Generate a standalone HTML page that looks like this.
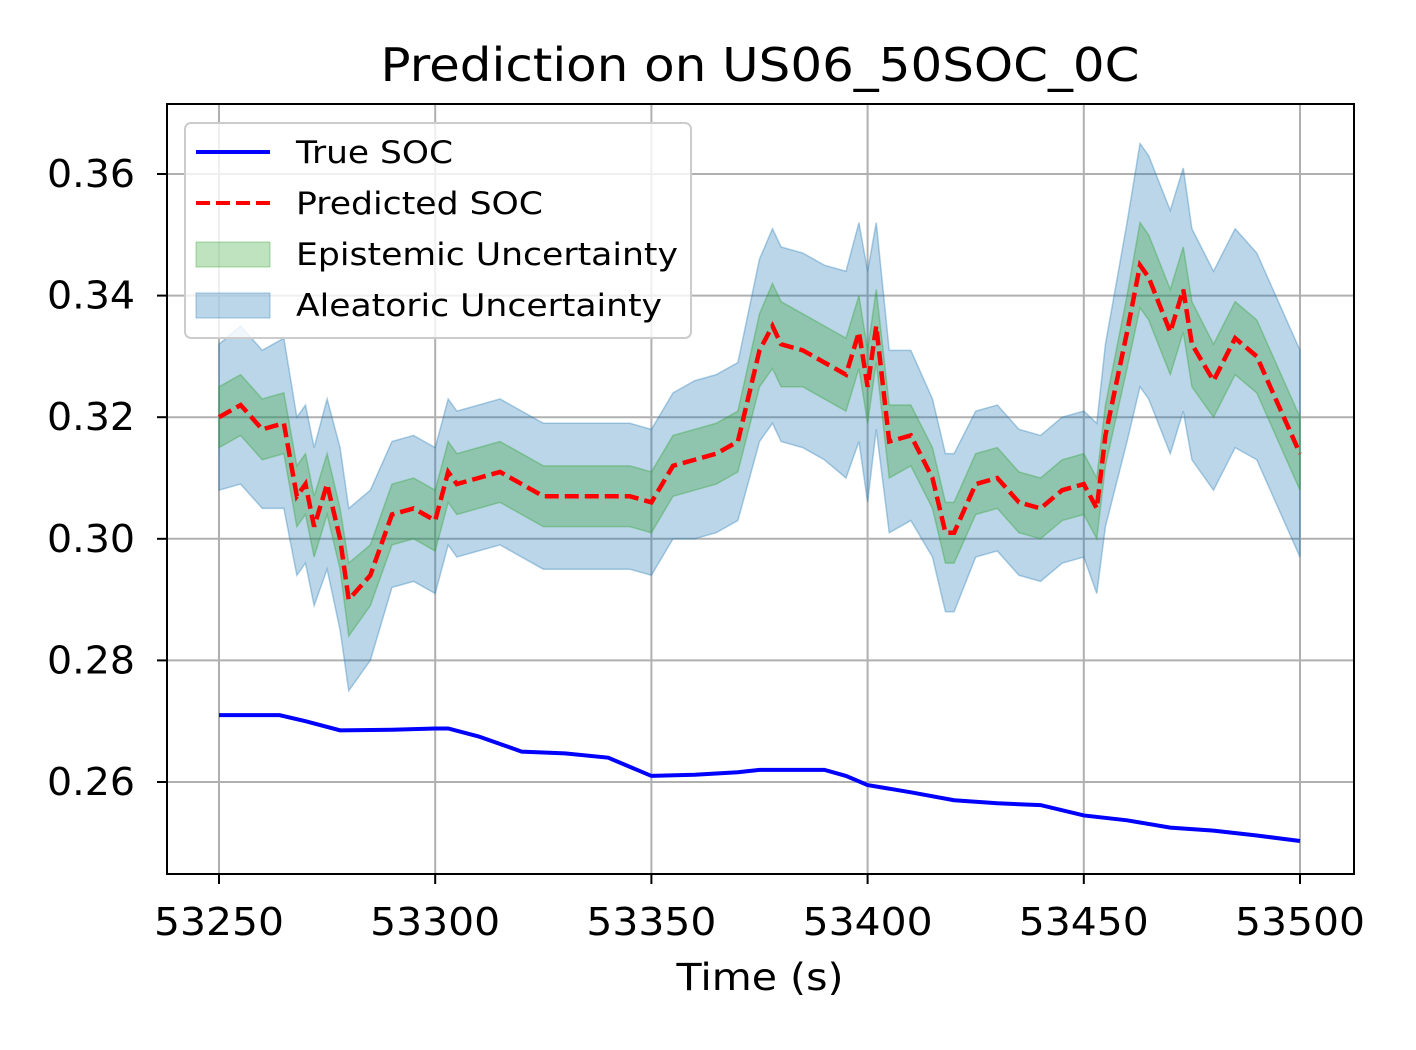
<!DOCTYPE html>
<html><head><meta charset="utf-8"><style>
body{margin:0;background:#fff;}
svg{display:block;font-family:"DejaVu Sans","Liberation Sans",sans-serif;}
</style></head><body>
<svg id="chart" width="1416" height="1050">
<text x="760" y="81" font-size="46" text-anchor="middle" textLength="759" lengthAdjust="spacingAndGlyphs">Prediction on US06_50SOC_0C</text>
<g id="grid"></g><g id="bands"></g><g id="lines"></g>
<rect x="167" y="104" width="1187" height="770" fill="none" stroke="#000" stroke-width="2"/>
<g id="ticks"></g>
<text x="760" y="990" font-size="37" text-anchor="middle" textLength="167" lengthAdjust="spacingAndGlyphs">Time (s)</text>
<g>
<rect x="185" y="123" width="506" height="215" rx="6" fill="#fff" fill-opacity="0.8" stroke="#ccc" stroke-width="2"/>
<line x1="196" y1="152" x2="270" y2="152" stroke="#0000ff" stroke-width="4"/>
<text x="296" y="163" font-size="31" textLength="157" lengthAdjust="spacingAndGlyphs">True SOC</text>
<line x1="196" y1="203" x2="270" y2="203" stroke="#ff0000" stroke-width="4" stroke-dasharray="14,6"/>
<text x="296" y="214" font-size="31" textLength="247" lengthAdjust="spacingAndGlyphs">Predicted SOC</text>
<rect x="196" y="242" width="74" height="25" fill="#2ca02c" fill-opacity="0.3" stroke="#2ca02c" stroke-opacity="0.4"/>
<text x="296" y="265" font-size="31" textLength="382" lengthAdjust="spacingAndGlyphs">Epistemic Uncertainty</text>
<rect x="196" y="293" width="74" height="25" fill="#1f77b4" fill-opacity="0.3" stroke="#1f77b4" stroke-opacity="0.4"/>
<text x="296" y="316" font-size="31" textLength="366" lengthAdjust="spacingAndGlyphs">Aleatoric Uncertainty</text>
</g>
</svg>
<script>
const predT=[53250,53255,53260,53265,53268,53270,53272,53275,53278,53280,53285,53290,53295,53300,53303,53305,53310,53315,53320,53325,53330,53335,53340,53345,53350,53355,53360,53365,53370,53375,53378,53380,53385,53390,53395,53398,53400,53402,53405,53410,53415,53418,53420,53425,53430,53435,53440,53445,53450,53453,53455,53460,53463,53465,53470,53473,53475,53480,53485,53490,53495,53500];
const predV=[0.320,0.322,0.318,0.319,0.307,0.309,0.302,0.309,0.300,0.290,0.294,0.304,0.305,0.303,0.311,0.309,0.310,0.311,0.309,0.307,0.307,0.307,0.307,0.307,0.306,0.312,0.313,0.314,0.316,0.331,0.335,0.332,0.331,0.329,0.327,0.334,0.325,0.335,0.316,0.317,0.310,0.301,0.301,0.309,0.310,0.306,0.305,0.308,0.309,0.305,0.317,0.334,0.345,0.343,0.334,0.341,0.332,0.326,0.333,0.330,0.322,0.314];
const epiW=[0.005,0.005,0.005,0.005,0.005,0.005,0.005,0.005,0.005,0.006,0.005,0.005,0.005,0.005,0.005,0.005,0.005,0.005,0.005,0.005,0.005,0.005,0.005,0.005,0.005,0.005,0.005,0.005,0.005,0.006,0.007,0.007,0.006,0.006,0.006,0.006,0.006,0.006,0.006,0.005,0.005,0.005,0.005,0.005,0.005,0.005,0.005,0.005,0.005,0.005,0.005,0.006,0.007,0.007,0.007,0.007,0.007,0.006,0.006,0.006,0.006,0.006];
const aleW=[0.012,0.013,0.013,0.014,0.013,0.013,0.013,0.014,0.015,0.015,0.014,0.012,0.012,0.012,0.012,0.012,0.012,0.012,0.012,0.012,0.012,0.012,0.012,0.012,0.012,0.012,0.013,0.013,0.013,0.015,0.016,0.016,0.016,0.016,0.017,0.018,0.019,0.017,0.015,0.014,0.013,0.013,0.013,0.012,0.012,0.012,0.012,0.012,0.012,0.014,0.015,0.018,0.020,0.020,0.020,0.020,0.019,0.018,0.018,0.017,0.017,0.017];
const trueT=[53250,53264,53270,53278,53290,53300,53303,53310,53320,53330,53340,53350,53360,53370,53375,53390,53395,53400,53410,53420,53430,53440,53450,53460,53470,53480,53490,53500];
const trueV=[0.271,0.271,0.270,0.2685,0.2686,0.2688,0.2688,0.2675,0.2650,0.2647,0.2640,0.2610,0.2612,0.2616,0.2620,0.2620,0.2610,0.2595,0.2583,0.2570,0.2565,0.2562,0.2545,0.2537,0.2525,0.2520,0.2512,0.2503];
const xTicks=[53250,53300,53350,53400,53450,53500];
const yTicks=[0.26,0.28,0.30,0.32,0.34,0.36];
const X=t=>219+(t-53250)*(1081/250);
const Y=v=>782-(v-0.26)*6080;
const NS='http://www.w3.org/2000/svg';
function mk(tag,attrs,parent){const e=document.createElementNS(NS,tag);for(const k in attrs)e.setAttribute(k,attrs[k]);document.getElementById(parent).appendChild(e);return e;}
xTicks.forEach(t=>{
 const g=mk('line',{x1:X(t),x2:X(t),y1:104,y2:874,stroke:'#b0b0b0','stroke-width':2},'grid');
 
 
 mk('line',{x1:X(t),x2:X(t),y1:874,y2:884,stroke:'#000','stroke-width':2},'ticks');
 const l=mk('text',{x:X(t),y:935,'font-size':38,'text-anchor':'middle',textLength:130,lengthAdjust:'spacingAndGlyphs'},'ticks');l.textContent=t;
 
 
});
yTicks.forEach(v=>{
 const g=mk('line',{x1:167,x2:1354,y1:Y(v),y2:Y(v),stroke:'#b0b0b0','stroke-width':2},'grid');
 
 
 mk('line',{x1:157,x2:167,y1:Y(v),y2:Y(v),stroke:'#000','stroke-width':2},'ticks');
 const l=mk('text',{x:135,y:Y(v)+13,'font-size':38,'text-anchor':'end',textLength:88,lengthAdjust:'spacingAndGlyphs'},'ticks');l.textContent=v.toFixed(2);
 
 
});
function band(w){let up=predT.map((t,i)=>X(t)+','+Y(predV[i]+w[i]));let dn=predT.map((t,i)=>X(t)+','+Y(predV[i]-w[i])).reverse();return 'M'+up.join('L')+'L'+dn.join('L')+'Z';}
const a=mk('path',{d:band(aleW),fill:'#1f77b4','fill-opacity':0.3,stroke:'#1f77b4','stroke-opacity':0.35,'stroke-width':1.5},'bands');


const e=mk('path',{d:band(epiW),fill:'#2ca02c','fill-opacity':0.3,stroke:'#2ca02c','stroke-opacity':0.35,'stroke-width':1.5},'bands');


const tl=mk('polyline',{points:trueT.map((t,i)=>X(t)+','+Y(trueV[i])).join(' '),fill:'none',stroke:'#0000ff','stroke-width':4},'lines');


const pl=mk('polyline',{points:predT.map((t,i)=>X(t)+','+Y(predV[i])).join(' '),fill:'none',stroke:'#ff0000','stroke-width':4.5,'stroke-dasharray':'14,6'},'lines');


</script>
</body></html>
